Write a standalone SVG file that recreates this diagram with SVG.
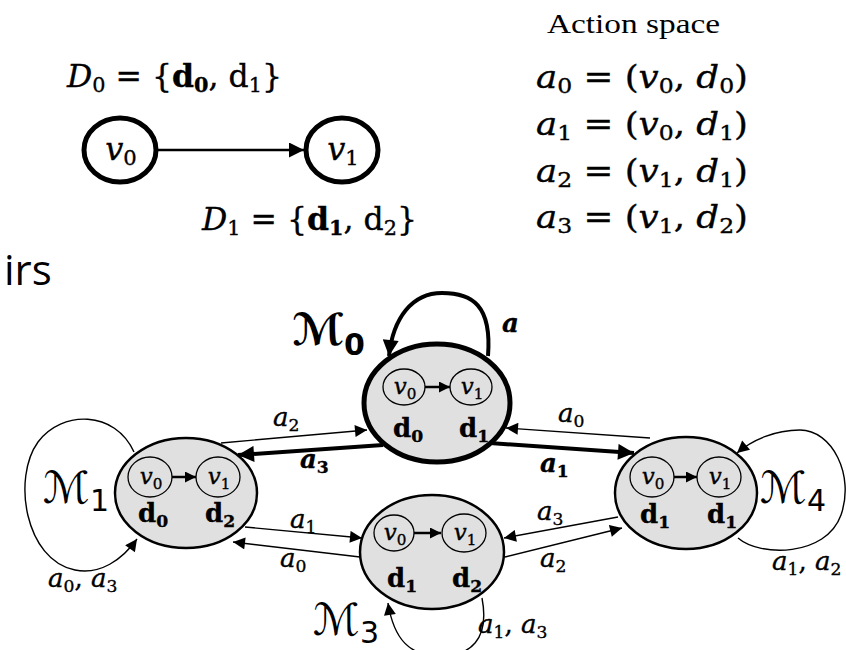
<svg xmlns="http://www.w3.org/2000/svg" width="846" height="650" viewBox="0 0 846 650">
<style>
.m{font-family:"DejaVu Serif","Liberation Serif",serif;fill:#000;stroke:#000;stroke-width:0.35}
.it{font-style:italic}
.b{font-weight:bold}
.s{font-size:0.66em;font-style:normal}
.big{font-size:32px}
.lab{font-size:26px}
.nd{font-size:26px;font-weight:bold}
.vv{font-size:23px}
.scr{font-family:"DejaVu Sans","DejaVu Serif",serif;font-size:44px}
.node{fill:#e0e0e0;stroke:#000;stroke-width:2.5}
.inner{fill:none;stroke:#000;stroke-width:1.3}
.thin{fill:none;stroke:#000;stroke-width:1.4}
.thick{fill:none;stroke:#000;stroke-width:4}
</style>
<defs>
<marker id="ah" viewBox="0 0 10 10" refX="10" refY="5" markerWidth="13" markerHeight="12" markerUnits="userSpaceOnUse" orient="auto"><path d="M0,0 L10,5 L0,10 z" fill="#000"/></marker>
<marker id="ahm" viewBox="0 0 10 10" refX="10" refY="5" markerWidth="17" markerHeight="15" markerUnits="userSpaceOnUse" orient="auto"><path d="M0,0 L10,5 L0,10 z" fill="#000"/></marker>
<marker id="ahb" viewBox="0 0 10 10" refX="10" refY="5" markerWidth="20" markerHeight="16" markerUnits="userSpaceOnUse" orient="auto"><path d="M0,0 L10,5 L0,10 z" fill="#000"/></marker>
<marker id="ahs" viewBox="0 0 10 10" refX="10" refY="5" markerWidth="11" markerHeight="11" markerUnits="userSpaceOnUse" orient="auto"><path d="M0,0 L10,5 L0,10 z" fill="#000"/></marker>
</defs>
<rect width="846" height="650" fill="#fff"/>

<!-- partial caption text -->
<text x="4" y="285" font-family="'Open Sans',sans-serif" font-size="42">irs</text>

<!-- top graph -->
<g id="top-v0"><ellipse cx="120" cy="150" rx="36" ry="32" fill="#fff" stroke="#000" stroke-width="5"/>
<text class="m big it" x="121" y="160" text-anchor="middle">v<tspan class="s" dy="5">0</tspan></text></g>
<g id="top-v1"><ellipse cx="342" cy="150" rx="36" ry="32" fill="#fff" stroke="#000" stroke-width="5"/>
<text class="m big it" x="343" y="160" text-anchor="middle">v<tspan class="s" dy="5">1</tspan></text></g>
<g id="top-edge"><line x1="158" y1="150" x2="304" y2="150" stroke="#000" stroke-width="2.5" marker-end="url(#ahm)"/></g>
<text class="m big" x="67" y="87" textLength="215" lengthAdjust="spacingAndGlyphs"><tspan class="it">D</tspan><tspan class="s" dy="5">0</tspan><tspan dy="-5"> = {</tspan><tspan class="b">d</tspan><tspan class="s b" dy="5">0</tspan><tspan dy="-5">, d</tspan><tspan class="s" dy="5">1</tspan><tspan dy="-5">}</tspan></text>
<text class="m big" x="202" y="230" textLength="215" lengthAdjust="spacingAndGlyphs"><tspan class="it">D</tspan><tspan class="s" dy="5">1</tspan><tspan dy="-5"> = {</tspan><tspan class="b">d</tspan><tspan class="s b" dy="5">1</tspan><tspan dy="-5">, d</tspan><tspan class="s" dy="5">2</tspan><tspan dy="-5">}</tspan></text>

<!-- action space -->
<text x="547" y="33" font-family="'Liberation Serif',serif" font-size="27" textLength="173" lengthAdjust="spacingAndGlyphs">Action space</text>
<text class="m big it" x="536" y="88" textLength="212" lengthAdjust="spacingAndGlyphs">a<tspan class="s" dy="5">0</tspan><tspan dy="-5" font-style="normal"> = (</tspan>v<tspan class="s" dy="5">0</tspan><tspan dy="-5" font-style="normal">, </tspan>d<tspan class="s" dy="5">0</tspan><tspan dy="-5" font-style="normal">)</tspan></text>
<text class="m big it" x="536" y="135" textLength="212" lengthAdjust="spacingAndGlyphs">a<tspan class="s" dy="5">1</tspan><tspan dy="-5" font-style="normal"> = (</tspan>v<tspan class="s" dy="5">0</tspan><tspan dy="-5" font-style="normal">, </tspan>d<tspan class="s" dy="5">1</tspan><tspan dy="-5" font-style="normal">)</tspan></text>
<text class="m big it" x="536" y="182" textLength="212" lengthAdjust="spacingAndGlyphs">a<tspan class="s" dy="5">2</tspan><tspan dy="-5" font-style="normal"> = (</tspan>v<tspan class="s" dy="5">1</tspan><tspan dy="-5" font-style="normal">, </tspan>d<tspan class="s" dy="5">1</tspan><tspan dy="-5" font-style="normal">)</tspan></text>
<text class="m big it" x="536" y="228" textLength="212" lengthAdjust="spacingAndGlyphs">a<tspan class="s" dy="5">3</tspan><tspan dy="-5" font-style="normal"> = (</tspan>v<tspan class="s" dy="5">1</tspan><tspan dy="-5" font-style="normal">, </tspan>d<tspan class="s" dy="5">2</tspan><tspan dy="-5" font-style="normal">)</tspan></text>

<!-- connectors -->
<g id="connectors">
<path class="thick" d="M488,356 C492,305 472,293 442,293 C412,293 393,318 389,356" marker-end="url(#ahb)"/>
<path class="thin" d="M134,452 C115,410 62,410 38,442 C12,478 25,560 75,570 C100,575 122,560 137,539" marker-end="url(#ah)"/>
<path class="thin" d="M738,538 C760,557 826,557 841,515 C855,475 832,430 800,430 C775,430 752,440 737,453" marker-end="url(#ah)"/>
<path class="thin" d="M482,598 C490,640 470,656 440,656 C410,656 394,640 388,603" marker-end="url(#ah)"/>
<line class="thin" x1="221" y1="443" x2="367" y2="430" marker-end="url(#ah)"/>
<line class="thick" x1="383" y1="445" x2="238" y2="455" marker-end="url(#ahb)"/>
<line class="thin" x1="650" y1="438" x2="506" y2="428" marker-end="url(#ah)"/>
<line class="thick" x1="490" y1="443" x2="634" y2="453" marker-end="url(#ahb)"/>
<line class="thin" x1="245" y1="527" x2="362" y2="538" marker-end="url(#ah)"/>
<line class="thin" x1="360" y1="557" x2="233" y2="542" marker-end="url(#ah)"/>
<line class="thin" x1="618" y1="517" x2="504" y2="538" marker-end="url(#ah)"/>
<line class="thin" x1="505" y1="557" x2="622" y2="528" marker-end="url(#ah)"/>
</g>

<!-- edge labels -->
<g id="edge-labels" class="m lab it">
<text x="273" y="426">a<tspan class="s" dy="5">2</tspan></text>
<text x="300" y="468" class="b">a<tspan class="s b" dy="5">3</tspan></text>
<text x="558" y="422">a<tspan class="s" dy="5">0</tspan></text>
<text x="540" y="472" class="b">a<tspan class="s b" dy="5">1</tspan></text>
<text x="290" y="528">a<tspan class="s" dy="5">1</tspan></text>
<text x="280" y="567">a<tspan class="s" dy="5">0</tspan></text>
<text x="537" y="520">a<tspan class="s" dy="5">3</tspan></text>
<text x="540" y="567">a<tspan class="s" dy="5">2</tspan></text>
<text x="48" y="587">a<tspan class="s" dy="5">0</tspan><tspan dy="-5" font-style="normal">, </tspan>a<tspan class="s" dy="5">3</tspan></text>
<text x="772" y="570">a<tspan class="s" dy="5">1</tspan><tspan dy="-5" font-style="normal">, </tspan>a<tspan class="s" dy="5">2</tspan></text>
<text x="478" y="633">a<tspan class="s" dy="5">1</tspan><tspan dy="-5" font-style="normal">, </tspan>a<tspan class="s" dy="5">3</tspan></text>
<text x="502" y="332" class="b">a</text>
</g>

<!-- M0 -->
<g id="M0">
<ellipse cx="437" cy="403" rx="73" ry="59" fill="#e0e0e0" stroke="#000" stroke-width="5"/>
<ellipse class="inner" cx="404" cy="387" rx="21" ry="18"/>
<ellipse class="inner" cx="471" cy="387" rx="21" ry="18"/>
<line x1="425" y1="387" x2="450" y2="387" stroke="#000" stroke-width="2.5" marker-end="url(#ahs)"/>
<text class="m vv it" x="405" y="394" text-anchor="middle">v<tspan class="s" dy="5">0</tspan></text>
<text class="m vv it" x="472" y="394" text-anchor="middle">v<tspan class="s" dy="5">1</tspan></text>
<text class="m nd" x="393" y="437">d<tspan class="s b" dy="5">0</tspan></text>
<text class="m nd" x="459" y="437">d<tspan class="s b" dy="5">1</tspan></text>
<text class="scr b" x="292" y="345">ℳ<tspan font-size="30" dy="10">0</tspan></text>
</g>

<!-- M1 -->
<g id="M1">
<ellipse class="node" cx="186" cy="493" rx="71" ry="55"/>
<ellipse class="inner" cx="150" cy="477" rx="22" ry="20"/>
<ellipse class="inner" cx="218" cy="477" rx="22" ry="20"/>
<line x1="172" y1="477" x2="196" y2="477" stroke="#000" stroke-width="2.5" marker-end="url(#ahs)"/>
<text class="m vv it" x="151" y="484" text-anchor="middle">v<tspan class="s" dy="5">0</tspan></text>
<text class="m vv it" x="219" y="484" text-anchor="middle">v<tspan class="s" dy="5">1</tspan></text>
<text class="m nd" x="138" y="522">d<tspan class="s b" dy="5">0</tspan></text>
<text class="m nd" x="205" y="522">d<tspan class="s b" dy="5">2</tspan></text>
<text class="scr" x="43" y="503">ℳ<tspan font-size="30" dy="8">1</tspan></text>
</g>

<!-- M4 -->
<g id="M4">
<ellipse class="node" cx="686" cy="493" rx="71" ry="56"/>
<ellipse class="inner" cx="652" cy="477" rx="22" ry="20"/>
<ellipse class="inner" cx="719" cy="477" rx="22" ry="20"/>
<line x1="674" y1="477" x2="697" y2="477" stroke="#000" stroke-width="2.5" marker-end="url(#ahs)"/>
<text class="m vv it" x="653" y="484" text-anchor="middle">v<tspan class="s" dy="5">0</tspan></text>
<text class="m vv it" x="720" y="484" text-anchor="middle">v<tspan class="s" dy="5">1</tspan></text>
<text class="m nd" x="640" y="523">d<tspan class="s b" dy="5">1</tspan></text>
<text class="m nd" x="707" y="523">d<tspan class="s b" dy="5">1</tspan></text>
<text class="scr" x="760" y="503">ℳ<tspan font-size="30" dy="8">4</tspan></text>
</g>

<!-- M3 -->
<g id="M3">
<ellipse class="node" cx="432" cy="552" rx="72" ry="57"/>
<ellipse class="inner" cx="394" cy="533" rx="20" ry="18"/>
<ellipse class="inner" cx="464" cy="533" rx="22" ry="19"/>
<line x1="414" y1="533" x2="441" y2="533" stroke="#000" stroke-width="2.5" marker-end="url(#ahs)"/>
<text class="m vv it" x="395" y="540" text-anchor="middle">v<tspan class="s" dy="5">0</tspan></text>
<text class="m vv it" x="465" y="540" text-anchor="middle">v<tspan class="s" dy="5">1</tspan></text>
<text class="m nd" x="387" y="587">d<tspan class="s b" dy="5">1</tspan></text>
<text class="m nd" x="452" y="587">d<tspan class="s b" dy="5">2</tspan></text>
<text class="scr" x="313" y="635">ℳ<tspan font-size="30" dy="8">3</tspan></text>
</g>
</svg>
